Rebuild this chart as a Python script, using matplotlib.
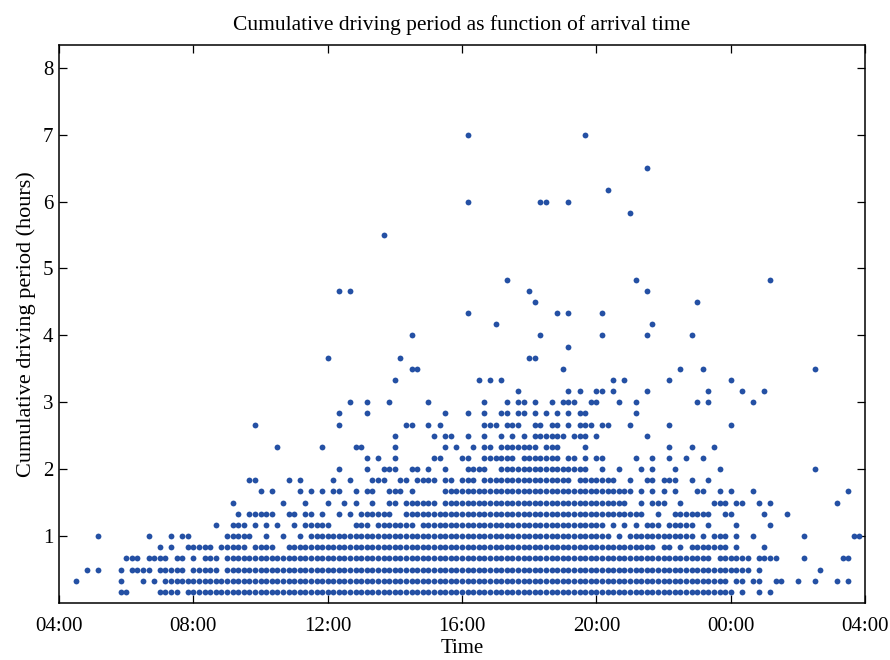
import numpy as np
import matplotlib.pyplot as plt

# Arrival times are binned in 10 minute slots counted from 04:00,
# driving periods in 10 minute steps (level k -> k/6 hours).
# For every driving level: the arrival slots that occur.
level_slots = {
    1: "11,12,18-21,23-120,122,125,127",
    2: "3,11,15,17,19-119,121,122,124,125,128,129,132,135,139,141",
    3: "5,7,11,13-16,18-22,24-28,30-123,125,136",
    4: "12-14,16-19,21,22,24,26-28,30-116,118-123,125-128,133,140,141",
    5: "18,20,23-27,29-33,35-38,41-106,108,109,111,113-119,121,126",
    6: "7,16,20,22,23,30-34,37,40,43,45-98,100,102-113,115,117-119,121,124,133,142,143",
    7: "28,31-33,35,37,39,42,44-48,53-55,57-63,65-97,99,101,103,105-107,109-113,116,121,127",
    8: "32,34-38,41,42,44,45,47,50,52,54-59,62-104,107,110-116,119,120,126,130",
    9: "31,40,44,48,51,53,56,59,60,62-67,69-101,104,106-108,111,117-119,121,122,125,127,139",
    10: "36,38,43,45,47,49,50,53,55,56,59-61,63,69-102,104,106,108,110,114,115,118,120,124,141",
    11: "34,35,41,43,49,52,56-58,61,62,64-67,69,70,72-74,76-91,93-99,102,105,106,108-110,113,116",
    12: "50,55,58-60,63,64,66,69,73-76,79-94,97,100,104,106,110,118,135",
    13: "55,57,60,67,68,72,73,76-81,83-89,91,92,94,96,97,103,106,109,112,115",
    14: "39,47,53,54,60,69,71,74,76,77,79-85,87-89,94,109,113,117",
    15: "60,67,69,70,73,76,79,81,83,85-90,92-94,96,105",
    16: "35,50,62,63,66,68,76-78,80-82,85,86,88,89,91,93-95,97,98,102,109,120",
    17: "50,55,69,73,76,79,80,82,83,85,87,89,91,93,94,103",
    18: "52,55,59,66,76,80,82,83,85,88,90-92,95,96,100,103,114,116,124",
    19: "82,91,93,96,97,99,105,116,122,126",
    20: "60,75,77,79,99,101,109,120",
    21: "63,64,90,111,115,135",
    22: "48,61,84,85",
    23: "91",
    24: "63,86,97,105,113",
    25: "78,106",
    26: "73,89,91,97",
    27: "85,114",
    28: "50,52,84,105",
    29: "80,103,127",
    33: "58",
    35: "102",
    36: "73,86,87,91",
    37: "98",
    39: "105",
    42: "73,94",
}

hour_ticks = [4, 8, 12, 16, 20, 24, 28]
hour_labels = ["04:00", "08:00", "12:00", "16:00", "20:00", "00:00", "04:00"]


def expand(spec):
    out = []
    for part in spec.split(","):
        if "-" in part:
            a, b = part.split("-")
            out.extend(range(int(a), int(b) + 1))
        else:
            out.append(int(part))
    return out


arrival, period = [], []
for level, spec in level_slots.items():
    for slot in expand(spec):
        arrival.append(4 + slot / 6)
        period.append(level / 6)
arrival = np.array(arrival)
period = np.array(period)

plt.rcParams['font.family'] = ['Liberation Serif', 'DejaVu Serif']

fig = plt.figure(figsize=(8.9, 6.6), dpi=100)
ax = fig.add_axes([0.0663, 0.0864, 0.9057, 0.8454])

ax.plot(arrival, period, 'o', color='#2450a4', markersize=4.2,
        markeredgewidth=0, linestyle='none')

ax.set_xlim(4, 28)
ax.set_ylim(0, 8.34)
ax.set_xticks(hour_ticks)
ax.set_xticklabels(hour_labels)
ax.set_yticks(range(1, 9))

ax.tick_params(direction='in', top=True, right=True, length=6, width=0.9,
               labelsize=15, pad=4)
ax.tick_params(axis='x', pad=10)
for sp in ax.spines.values():
    sp.set_linewidth(1.1)

ax.set_title('Cumulative driving period as function of arrival time',
             fontsize=15.5, pad=11)
ax.set_xlabel('Time', fontsize=15, labelpad=2)
ax.set_ylabel('Cumulative driving period (hours)', fontsize=16, labelpad=5)

fig.savefig('out.png', dpi=100)
